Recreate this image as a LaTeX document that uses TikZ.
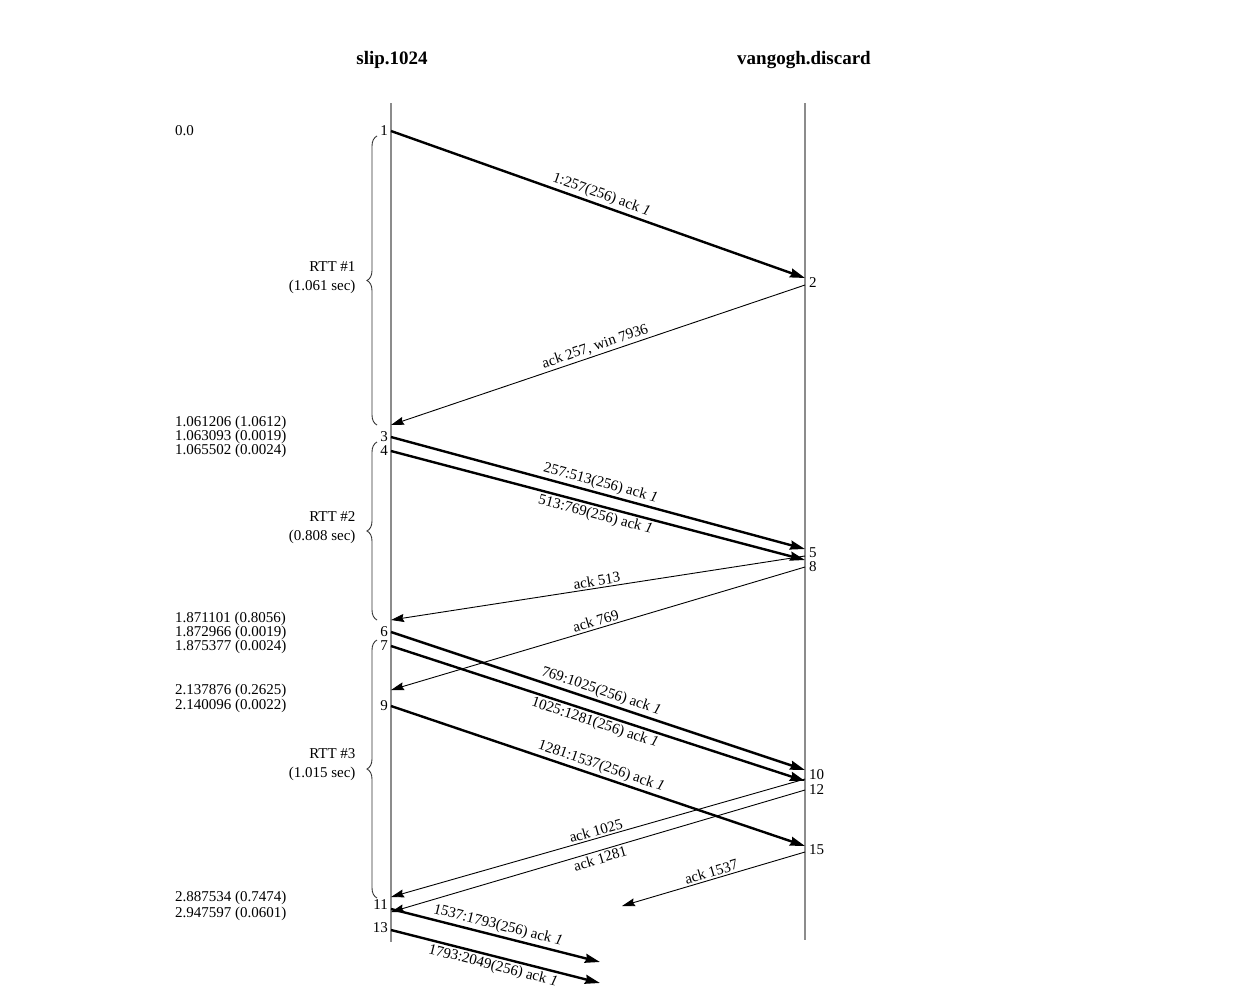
\documentclass[tikz,border=0pt]{standalone}
\usepackage{fontspec}
\setmainfont{Liberation Serif}
\usetikzlibrary{arrows.meta,decorations.pathreplacing}

\begin{document}
\begin{tikzpicture}[x=1pt,y=-1pt,font=\fontsize{15}{14}\selectfont]
    \tikzset{
        host/.style={font=\fontsize{19}{19}\selectfont\bfseries},
        stamp/.style={anchor=west,inner sep=0pt},
        evl/.style={anchor=east,inner sep=1pt},
        evr/.style={anchor=west,inner sep=1pt},
        timeline/.style={draw=black!45,line width=1.5pt},
        seg/.style={-{Stealth[length=15pt,width=9pt,inset=1.5pt]},line width=2.4pt},
        ack/.style={-{Stealth[length=13pt,width=8pt,inset=1.5pt]},line width=0.9pt},
        rtt/.style={draw=black!80,line width=0.9pt,decorate,
            decoration={brace,amplitude=10pt}},
        rttlabel/.style={anchor=east,align=right,
            font=\fontsize{15}{19}\selectfont}
    }
    \useasboundingbox (0,0) rectangle (1240,996);

    % hosts and time lines
    \node[host] (slip) at (392,60) {slip.1024};
    \node[host] (vangogh) at (804,60) {vangogh.discard};
    \coordinate (slip-top) at (391,103);
    \coordinate (slip-bot) at (391,942);
    \coordinate (van-top) at (805,103);
    \coordinate (van-bot) at (805,940);
    \draw[timeline] (slip-top) -- (slip-bot);
    \draw[timeline] (van-top) -- (van-bot);

    % points on slip
    \coordinate (s1) at (391,131);
    \coordinate (s2) at (391,425);
    \coordinate (s3) at (391,437);
    \coordinate (s4) at (391,451);
    \coordinate (s5) at (391,620);
    \coordinate (s6) at (391,632);
    \coordinate (s7) at (391,646);
    \coordinate (s8) at (391,690);
    \coordinate (s9) at (391,706);
    \coordinate (s10) at (391,897);
    \coordinate (s11) at (391,909);
    \coordinate (s12) at (391,912);
    \coordinate (s13) at (391,930);
    % points on vangogh
    \coordinate (v1) at (805,278);
    \coordinate (v2) at (805,285);
    \coordinate (v3) at (805,549);
    \coordinate (v4) at (805,560);
    \coordinate (v5) at (805,556);
    \coordinate (v8) at (805,567);
    \coordinate (v6) at (805,770);
    \coordinate (v7) at (805,781);
    \coordinate (v10) at (805,779);
    \coordinate (v12) at (805,790);
    \coordinate (v9) at (805,846);
    \coordinate (v15) at (805,852);
    % loose ends
    \coordinate (ack-end) at (622,906);
    \coordinate (seg-end1) at (600,962);
    \coordinate (seg-end2) at (600,983);

    % data segments
    \foreach \a/\b/\t/\p in {
        s1/v1/{1:257(256) ack \textit{1}}/above,
        s3/v3/{257:513(256) ack \textit{1}}/above,
        s4/v4/{513:769(256) ack \textit{1}}/below,
        s6/v6/{769:1025(256) ack \textit{1}}/above,
        s7/v7/{1025:1281(256) ack \textit{1}}/below,
        s9/v9/{1281:1537(256) ack \textit{1}}/above,
        s11/seg-end1/{1537:1793(256) ack \textit{1}}/above,
        s13/seg-end2/{1793:2049(256) ack \textit{1}}/below}{
        \draw[seg] (\a) -- node[midway,sloped,\p,inner sep=2pt] {\t} (\b);
    }

    % acks
    \foreach \a/\b/\t/\p in {
        v2/s2/{ack 257, win 7936}/above,
        v5/s5/{ack 513}/above,
        v8/s8/{ack 769}/above,
        v10/s10/{ack 1025}/above,
        v12/s12/{ack 1281}/below,
        v15/ack-end/{ack 1537}/above}{
        \draw[ack] (\a) -- node[midway,sloped,\p,inner sep=2pt] {\t} (\b);
    }

    % event numbers
    \foreach \n/\y in {1/131,3/437,4/451,6/632,7/646,9/706,11/905,13/928}{
        \node[evl] (num\n) at (389,\y) {\n};
    }
    \foreach \n/\y in {2/283,5/553,8/567,10/775,12/790,15/850}{
        \node[evr] (num\n) at (808,\y) {\n};
    }

    % time stamps
    \foreach \y/\t in {131/0.0,
        423/1.061206 (1.0612),437/1.063093 (0.0019),451/1.065502 (0.0024),
        619/1.871101 (0.8056),633/1.872966 (0.0019),647/1.875377 (0.0024),
        691/2.137876 (0.2625),706/2.140096 (0.0022),
        898/2.887534 (0.7474),914/2.947597 (0.0601)}{
        \node[stamp] (ts\y) at (175,\y) {\t};
    }

    % round trip times
    \draw[rtt] (377,425) -- (377,136);
    \draw[rtt] (377,620) -- (377,442);
    \draw[rtt] (377,898) -- (377,640);
    \node[rttlabel] (rtt1) at (359,278) {RTT \#1\\(1.061 sec)};
    \node[rttlabel] (rtt2) at (359,528) {RTT \#2\\(0.808 sec)};
    \node[rttlabel] (rtt3) at (359,765) {RTT \#3\\(1.015 sec)};
\end{tikzpicture}
\end{document}
